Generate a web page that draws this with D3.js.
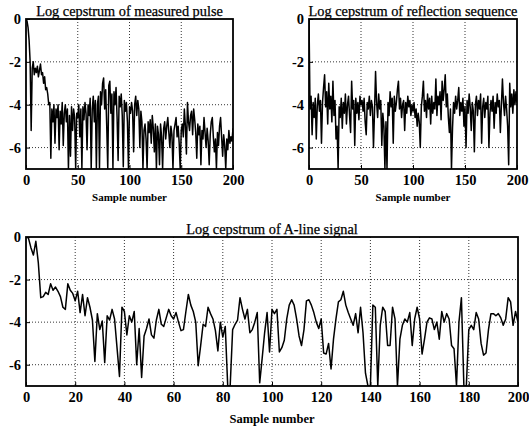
<!DOCTYPE html>
<html><head><meta charset="utf-8">
<script src="https://cdn.jsdelivr.net/npm/d3@7/dist/d3.min.js"></script>
<style>
html,body{margin:0;padding:0;background:#fff;}
svg text{font-family:"Liberation Serif","DejaVu Serif",serif;fill:#000;}
</style></head>
<body><svg id="c" width="529" height="431"></svg>
<script>
const pulseValues = [0,-0.1,-0.4,-1.0,-2.0,-5.2,-2.3,-2.0,-2.6,-2.3,-2.5,-2.2,-2.7,-2.4,-2.1,-2.6,-2.5,-3.0,-2.7,-3.3,-3.2,-3.5,-4.0,-3.9,-6.5,-4.2,-4.8,-4.0,-5.8,-4.2,-4.6,-4.0,-6.1,-4.3,-4.9,-3.9,-5.9,-4.4,-4.0,-4.8,-4.2,-7.0,-4.5,-6.4,-4.1,-5.2,-4.2,-4.6,-7.0,-4.4,-4.6,-4.0,-5.5,-4.2,-7.0,-4.1,-4.7,-3.9,-4.4,-6.1,-4.0,-4.5,-3.7,-7.0,-4.2,-3.6,-4.8,-3.8,-7.0,-4.0,-3.6,-7.0,-3.4,-4.0,-3.0,-2.75,-4.2,-3.3,-5.0,-7.0,-3.1,-2.9,-4.4,-3.5,-7.0,-3.4,-4.0,-3.2,-4.6,-6.6,-3.6,-4.1,-3.5,-4.5,-6.9,-3.8,-4.3,-3.9,-4.8,-7.0,-4.1,-4.4,-3.9,-4.3,-6.2,-4.0,-3.6,-4.5,-3.8,-4.2,-6.0,-4.3,-4.8,-7.0,-5.2,-4.9,-5.6,-7.0,-4.8,-5.3,-4.7,-5.8,-4.5,-5.1,-6.2,-4.9,-7.0,-5.0,-5.4,-6.8,-4.9,-5.5,-7.0,-5.1,-4.8,-5.6,-5.0,-4.6,-5.3,-6.0,-5.0,-5.4,-7.0,-5.2,-4.9,-4.6,-5.5,-5.0,-5.8,-7.0,-5.2,-4.9,-5.5,-4.2,-5.0,-6.3,-3.9,-4.8,-5.2,-4.5,-4.3,-5.4,-4.2,-4.7,-5.3,-6.5,-4.9,-5.4,-5.0,-6.8,-5.2,-5.6,-4.6,-5.3,-6.0,-5.1,-5.7,-6.8,-5.4,-4.8,-4.6,-5.5,-6.2,-5.6,-7.0,-5.3,-5.9,-5.0,-4.6,-5.5,-6.4,-5.4,-5.9,-7.0,-5.6,-6.1,-5.2,-5.8,-5.5,-5.7,-5.1];
const reflectionValues = [0,-4.2,-3.6,-5.4,-3.9,-4.6,-3.7,-5.6,-4.0,-3.5,-4.3,-3.8,-5.8,-3.9,-3.2,-2.6,-4.1,-3.4,-4.9,-3.0,-4.2,-3.6,-4.8,-2.9,-4.5,-3.8,-5.6,-5.0,-7.0,-4.1,-4.6,-3.7,-5.1,-3.9,-4.4,-3.5,-4.9,-4.0,-3.6,-4.5,-5.3,-2.9,-4.2,-3.8,-5.9,-3.7,-4.4,-3.9,-4.7,-3.6,-4.0,-3.8,-4.3,-3.7,-4.8,-5.4,-3.9,-4.2,-3.6,-4.5,-3.8,-4.1,-6.0,-4.3,-2.45,-3.9,-4.6,-3.5,-4.2,-3.8,-5.9,-4.4,-5.0,-7.0,-4.8,-7.0,-3.9,-4.5,-3.4,-4.1,-3.7,-5.8,-3.6,-4.3,-3.9,-3.3,-2.9,-4.2,-3.7,-4.6,-4.0,-3.8,-5.2,-3.9,-4.4,-3.6,-4.1,-3.8,-4.5,-4.0,-4.3,-3.9,-4.6,-4.2,-5.0,-4.4,-4.8,-6.0,-4.1,-3.6,-2.9,-4.3,-3.8,-4.6,-3.5,-4.2,-3.7,-4.9,-3.6,-4.4,-3.9,-4.2,-2.8,-4.5,-3.6,-4.0,-3.4,-4.7,-2.9,-3.8,-3.3,-2.6,-4.1,-3.5,-4.6,-5.3,-4.2,-7.0,-5.1,-3.9,-4.4,-3.6,-4.2,-3.8,-3.2,-4.5,-3.9,-4.3,-3.7,-5.0,-4.1,-6.0,-3.8,-4.4,-3.5,-4.1,-5.2,-3.9,-4.3,-6.2,-4.0,-3.6,-4.5,-3.8,-4.2,-3.5,-5.8,-4.1,-3.7,-4.6,-3.9,-4.2,-3.6,-6.0,-4.4,-3.8,-4.3,-3.6,-5.1,-3.9,-4.4,-3.5,-4.1,-3.8,-5.3,-4.0,-2.8,-3.9,-4.5,-3.6,-4.2,-5.0,-6.8,-3.0,-4.1,-3.5,-4.4,-3.3,-4.0,-3.4,-3.9];
const alineValues = [0,-0.05,-0.5,-0.85,-0.2,-1.2,-2.85,-2.8,-2.6,-2.7,-2.2,-2.5,-2.35,-2.55,-2.8,-3.3,-3.4,-2.2,-2.5,-2.65,-3.0,-2.55,-3.55,-2.7,-3.7,-2.85,-3.3,-3.9,-5.85,-3.6,-4.35,-3.95,-5.9,-3.7,-3.9,-3.4,-3.85,-5.2,-6.55,-3.3,-3.5,-4.6,-3.7,-4.0,-3.5,-6.0,-4.3,-6.6,-4.65,-4.3,-3.85,-4.6,-4.75,-3.9,-3.4,-4.1,-4.2,-3.8,-3.4,-3.7,-3.85,-3.55,-4.0,-4.4,-4.35,-3.5,-2.7,-3.2,-3.5,-4.0,-6.05,-5.1,-4.1,-4.2,-3.3,-3.6,-3.85,-4.4,-5.35,-4.0,-4.7,-4.2,-7.0,-7.0,-4.35,-4.1,-3.9,-2.85,-3.4,-3.85,-3.4,-4.5,-4.35,-4.0,-3.55,-6.85,-5.7,-4.5,-3.55,-5.4,-3.4,-3.6,-3.4,-5.4,-5.2,-4.85,-3.85,-3.2,-2.95,-3.2,-3.85,-4.65,-5.1,-4.35,-3.0,-2.95,-3.2,-3.55,-4.0,-4.3,-3.85,-5.45,-5.5,-5.0,-6.2,-4.8,-3.85,-3.05,-2.95,-2.55,-3.2,-3.55,-3.85,-4.15,-3.6,-4.5,-3.3,-4.5,-6.4,-7.0,-7.0,-3.2,-3.3,-7.0,-4.15,-3.3,-3.5,-5.1,-5.1,-3.3,-3.85,-7.0,-4.8,-4.15,-3.85,-4.0,-3.55,-5.1,-3.85,-3.3,-3.85,-5.5,-4.8,-4.0,-3.8,-3.85,-4.35,-4.0,-4.8,-3.5,-4.0,-3.6,-3.85,-5.1,-5.25,-7.0,-4.0,-2.85,-7.0,-7.0,-4.35,-4.15,-4.35,-3.55,-3.85,-5.0,-5.55,-5.45,-4.35,-3.6,-3.6,-3.7,-3.6,-3.8,-4.15,-3.85,-2.85,-3.05,-4.15,-3.5,-4.0];
const yTicks = [0,-2,-4,-6];
const xTicksTop = [0,50,100,150,200];
const xTicksBottom = [0,20,40,60,80,100,120,140,160,180,200];
const titles = ["Log cepstrum of measured pulse","Log cepstrum of reflection sequence","Log cepstrum of A-line signal"];
const xLabel = "Sample number";

const svg = d3.select("#c");
const panels = [
  {vals: pulseValues, x0: 26, x1: 233, y0: 19, y1: 169, ticks: xTicksTop, title: titles[0], lblSize: 11, lblDy: 32},
  {vals: reflectionValues, x0: 309, x1: 517, y0: 19, y1: 169, ticks: xTicksTop, title: titles[1], lblSize: 11, lblDy: 32},
  {vals: alineValues, x0: 26, x1: 518, y0: 237, y1: 386, ticks: xTicksBottom, title: titles[2], lblSize: 12.5, lblDy: 37}
];

panels.forEach((p, i) => {
  const x = d3.scaleLinear().domain([0, 200]).range([p.x0, p.x1]);
  const y = d3.scaleLinear().domain([-7, 0]).range([p.y1, p.y0]);
  const g = svg.append("g");
  const cid = "clip" + i;
  svg.append("clipPath").attr("id", cid).append("rect")
    .attr("x", p.x0).attr("y", p.y0).attr("width", p.x1 - p.x0).attr("height", p.y1 - p.y0);
  // grid
  g.selectAll(".gx").data(p.ticks.slice(1, -1)).enter().append("line")
    .attr("x1", d => x(d)).attr("x2", d => x(d)).attr("y1", p.y0).attr("y2", p.y1)
    .attr("stroke", "#000").attr("stroke-width", 0.8).attr("stroke-dasharray", "1,2");
  g.selectAll(".gy").data(yTicks.slice(1)).enter().append("line")
    .attr("x1", p.x0).attr("x2", p.x1).attr("y1", d => y(d)).attr("y2", d => y(d))
    .attr("stroke", "#000").attr("stroke-width", 0.8).attr("stroke-dasharray", "1,2");
  // line
  const line = d3.line().x((d, j) => x(j)).y(d => y(d));
  g.append("path").datum(p.vals).attr("d", line).attr("fill", "none")
    .attr("stroke", "#000").attr("stroke-width", 1.5).attr("stroke-linejoin", "round")
    .attr("clip-path", "url(#" + cid + ")");
  // axes
  const ax = d3.axisBottom(x).tickValues(p.ticks).tickSize(-4).tickPadding(5).tickFormat(d3.format("d"));
  const ay = d3.axisLeft(y).tickValues(yTicks).tickSize(-4).tickPadding(5).tickFormat(d => d === 0 ? "0" : String(d));
  const gx = g.append("g").attr("transform", `translate(0,${p.y1})`).call(ax);
  const gy = g.append("g").attr("transform", `translate(${p.x0},0)`).call(ay);
  [gx, gy].forEach(a => {
    a.select(".domain").remove();
    a.selectAll("line").attr("stroke", "#000");
    a.selectAll("text").attr("font-family", "Liberation Serif").attr("font-size", 14.5).attr("font-weight", "bold").attr("fill", "#000");
  });
  gx.selectAll("text").attr("dy", "0.75em");
  // frame
  g.append("rect").attr("x", p.x0).attr("y", p.y0).attr("width", p.x1 - p.x0).attr("height", p.y1 - p.y0)
    .attr("fill", "none").attr("stroke", "#000").attr("stroke-width", 1.8);
  // title
  g.append("text").attr("x", (p.x0 + p.x1) / 2).attr("y", p.y0 - 3).attr("text-anchor", "middle")
    .attr("font-size", 14.3).attr("stroke", "#000").attr("stroke-width", 0.25).text(p.title);
  // x label
  g.append("text").attr("x", (p.x0 + p.x1) / 2).attr("y", p.y1 + p.lblDy).attr("text-anchor", "middle")
    .attr("font-size", p.lblSize).attr("font-weight", "bold").text(xLabel);
});
</script></body></html>
